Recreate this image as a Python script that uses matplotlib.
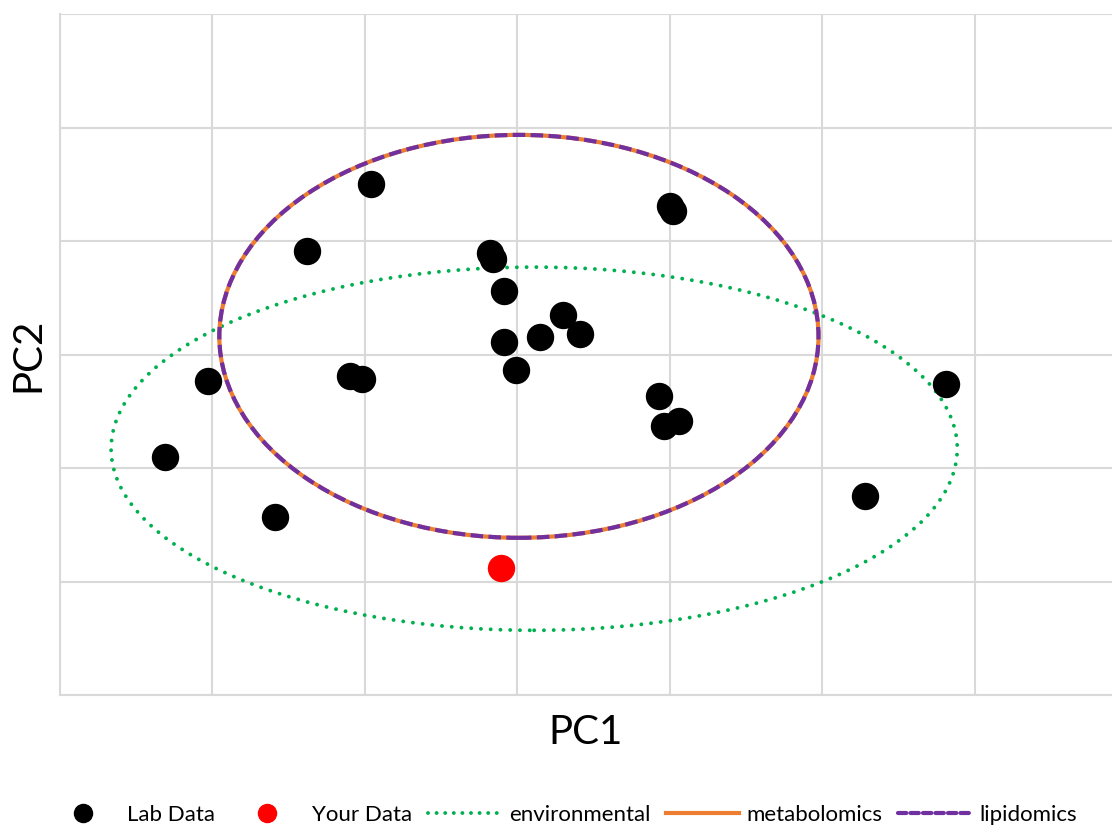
import matplotlib.pyplot as plt
from matplotlib.patches import Ellipse
from matplotlib.lines import Line2D

plt.rcParams['font.family'] = ['Lato', 'DejaVu Sans']

# lab samples (PC1, PC2)
lab_x = [-0.96, -1.38, -0.18, -0.16, -0.09, 1.00, 1.02, 0.30, 0.15, 0.41, -0.09,
         -0.01, -1.10, -1.02, -2.03, -2.31, -1.59, 0.93, 0.96, 1.06, 2.81, 2.28]
lab_y = [1.50, 0.91, 0.89, 0.84, 0.56, 1.31, 1.26, 0.35, 0.15, 0.18, 0.11,
         -0.14, -0.19, -0.22, -0.23, -0.90, -1.43, -0.37, -0.63, -0.59, -0.26, -1.25]

your_x = [-0.11]
your_y = [-1.88]

# confidence ellipses: center x, center y, width, height
ell_names = ["environmental", "metabolomics", "lipidomics"]
ell_cx = [0.11, 0.01, 0.01]
ell_cy = [-0.83, 0.16, 0.16]
ell_w = [5.55, 3.93, 3.93]
ell_h = [3.20, 3.55, 3.55]

fig = plt.figure(figsize=(11.12, 8.25), dpi=100)
ax = fig.add_axes([60 / 1112, 1 - 695 / 825, 1 - 60 / 1112, (695 - 14) / 825])

ax.set_xlim(-3, 3.9)
ax.set_ylim(-3, 3)
ax.set_xticks(range(-3, 4))
ax.set_yticks(range(-3, 4))
ax.tick_params(length=0, labelbottom=False, labelleft=False)
ax.grid(True, color="#d9d9d9", linewidth=1.5)
ax.set_axisbelow(True)
for s in ["top", "right"]:
    ax.spines[s].set_visible(False)
for s in ["left", "bottom"]:
    ax.spines[s].set_color("#d9d9d9")
    ax.spines[s].set_linewidth(1.5)

green = "#00b050"
orange = "#ed7d31"
purple = "#7030a0"

e_env = Ellipse((ell_cx[0], ell_cy[0]), ell_w[0], ell_h[0], fill=False,
                edgecolor=green, linewidth=2.8, linestyle=(0, (0.01, 2.5)))
e_env.set_capstyle("round")
ax.add_patch(e_env)
ax.add_patch(Ellipse((ell_cx[1], ell_cy[1]), ell_w[1], ell_h[1], fill=False,
                     edgecolor=orange, linewidth=3))
ax.add_patch(Ellipse((ell_cx[2], ell_cy[2]), ell_w[2], ell_h[2], fill=False,
                     edgecolor=purple, linewidth=3, linestyle=(0, (3, 1.3))))

ax.scatter(lab_x, lab_y, s=350, color="black", zorder=5)
ax.scatter(your_x, your_y, s=350, color="red", zorder=5)

ax.set_xlabel("PC1", fontsize=29, labelpad=14)
ax.set_ylabel("PC2", fontsize=29, labelpad=10)

handles = [
    Line2D([], [], marker="o", color="black", linestyle="none", markersize=13),
    Line2D([], [], marker="o", color="red", linestyle="none", markersize=13),
    Line2D([], [], color=green, linewidth=2.8, linestyle=(0, (0.01, 2.2)),
           dash_capstyle="round"),
    Line2D([], [], color=orange, linewidth=3),
    Line2D([], [], color=purple, linewidth=3, linestyle=(0, (2, 1)),
           dash_capstyle="round"),
]
labels = ["Lab Data", "Your Data"] + ell_names
fig.legend(handles, labels, loc="center", bbox_to_anchor=(0.505, 0.012), ncol=5,
           frameon=False, fontsize=16, handlelength=3.3, handletextpad=0.35,
           columnspacing=0.7)

fig.savefig("out.png", dpi=100)
